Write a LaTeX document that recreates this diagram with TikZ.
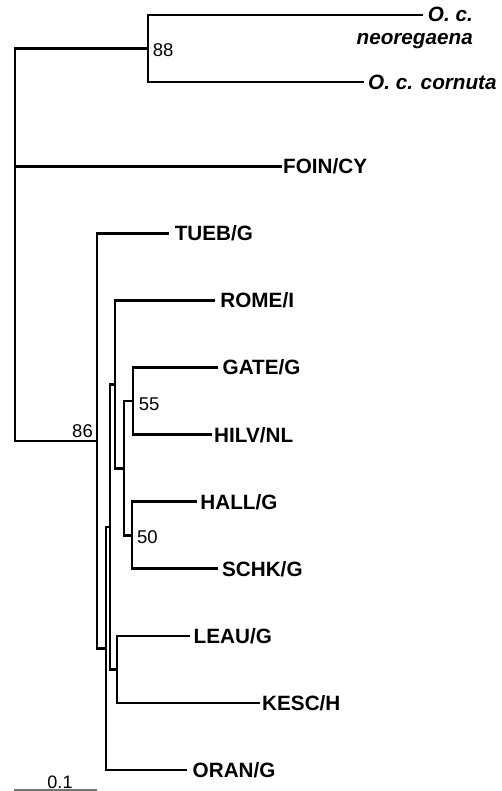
\documentclass[tikz,border=0pt]{standalone}
\usepackage{fontspec}
\setmainfont{Liberation Sans}
\begin{document}
\begin{tikzpicture}[x=1pt,y=-1pt,
  branch/.style={line width=2.8pt, black},
  leaf/.style={inner sep=0pt, anchor=base west, font=\bfseries\fontsize{20.7}{23}\selectfont},
  leafit/.style={inner sep=0pt, font=\bfseries\itshape\fontsize{20.7}{23}\selectfont},
  boot/.style={inner sep=0pt, font=\fontsize{18.5}{20}\selectfont},
  scalebar/.style={line width=1.2pt, black!55}]
\useasboundingbox (0,0) rectangle (501,791);
% internal nodes
\coordinate (root) at (15,166.5);
\coordinate (n88) at (148,48.5);
\coordinate (n86) at (97,440.9);
\coordinate (nA) at (106,648.45);
\coordinate (nB) at (110,526.9);
\coordinate (nC) at (115,384.3);
\coordinate (nD) at (124,468.15);
\coordinate (n55) at (133,401.05);
\coordinate (n50) at (132,535.25);
\coordinate (nE) at (117,669.45);
% leaf ends
\coordinate (neoE) at (422.5,15);
\coordinate (corE) at (364,82);
\coordinate (foinE) at (282,166.5);
\coordinate (tuebE) at (168.5,233.3);
\coordinate (romeE) at (215,300.4);
\coordinate (gateE) at (218,367.5);
\coordinate (hilvE) at (212,434.6);
\coordinate (hallE) at (196.5,501.7);
\coordinate (schkE) at (218,568.8);
\coordinate (leauE) at (190,635.9);
\coordinate (kescE) at (260,703);
\coordinate (oranE) at (187,770);
% branches
\draw[branch] (root) |- (n88);
\draw[branch] (root) |- (foinE);
\draw[branch] (root) |- (n86);
\draw[branch] (n88) |- (neoE);
\draw[branch] (n88) |- (corE);
\draw[branch] (n86) |- (tuebE);
\draw[branch] (n86) |- (nA);
\draw[branch] (nA) |- (nB);
\draw[branch] (nA) |- (oranE);
\draw[branch] (nB) |- (nC);
\draw[branch] (nB) |- (nE);
\draw[branch] (nC) |- (romeE);
\draw[branch] (nC) |- (nD);
\draw[branch] (nD) |- (n55);
\draw[branch] (nD) |- (n50);
\draw[branch] (n55) |- (gateE);
\draw[branch] (n55) |- (hilvE);
\draw[branch] (n50) |- (hallE);
\draw[branch] (n50) |- (schkE);
\draw[branch] (nE) |- (leauE);
\draw[branch] (nE) |- (kescE);
% leaf labels
\node[leafit, anchor=north east, align=right] (neo) at (473,7.3) {O. c.\\neoregaena};
\node[leafit, anchor=base west] (cor) at (368,89.4) {O. c. cornuta};
\node[leaf] (foin) at (283,173.9) {FOIN/CY};
\node[leaf] (tueb) at (174.6,240.7) {TUEB/G};
\node[leaf] (rome) at (220.2,307.8) {ROME/I};
\node[leaf] (gate) at (222.5,374.9) {GATE/G};
\node[leaf] (hilv) at (214,442) {HILV/NL};
\node[leaf] (hall) at (200.2,509.1) {HALL/G};
\node[leaf] (schk) at (221.9,576.2) {SCHK/G};
\node[leaf] (leau) at (193.5,643.3) {LEAU/G};
\node[leaf] (kesc) at (262,710.4) {KESC/H};
\node[leaf] (oran) at (192.5,777.4) {ORAN/G};
% bootstrap values
\node[boot, anchor=base west] (b88) at (152.6,56.7) {88};
\node[boot, anchor=base east] (b86) at (93,437.5) {86};
\node[boot, anchor=base west] (b55) at (138.6,410) {55};
\node[boot, anchor=base west] (b50) at (137,543) {50};
% scale bar
\coordinate (sbL) at (14,790);
\coordinate (sbR) at (97,790);
\draw[scalebar] (sbL) -- (sbR);
\node[inner sep=0pt, anchor=base, font=\fontsize{18}{20}\selectfont] (sblab) at (60,788) {0.1};
\end{tikzpicture}
\end{document}
